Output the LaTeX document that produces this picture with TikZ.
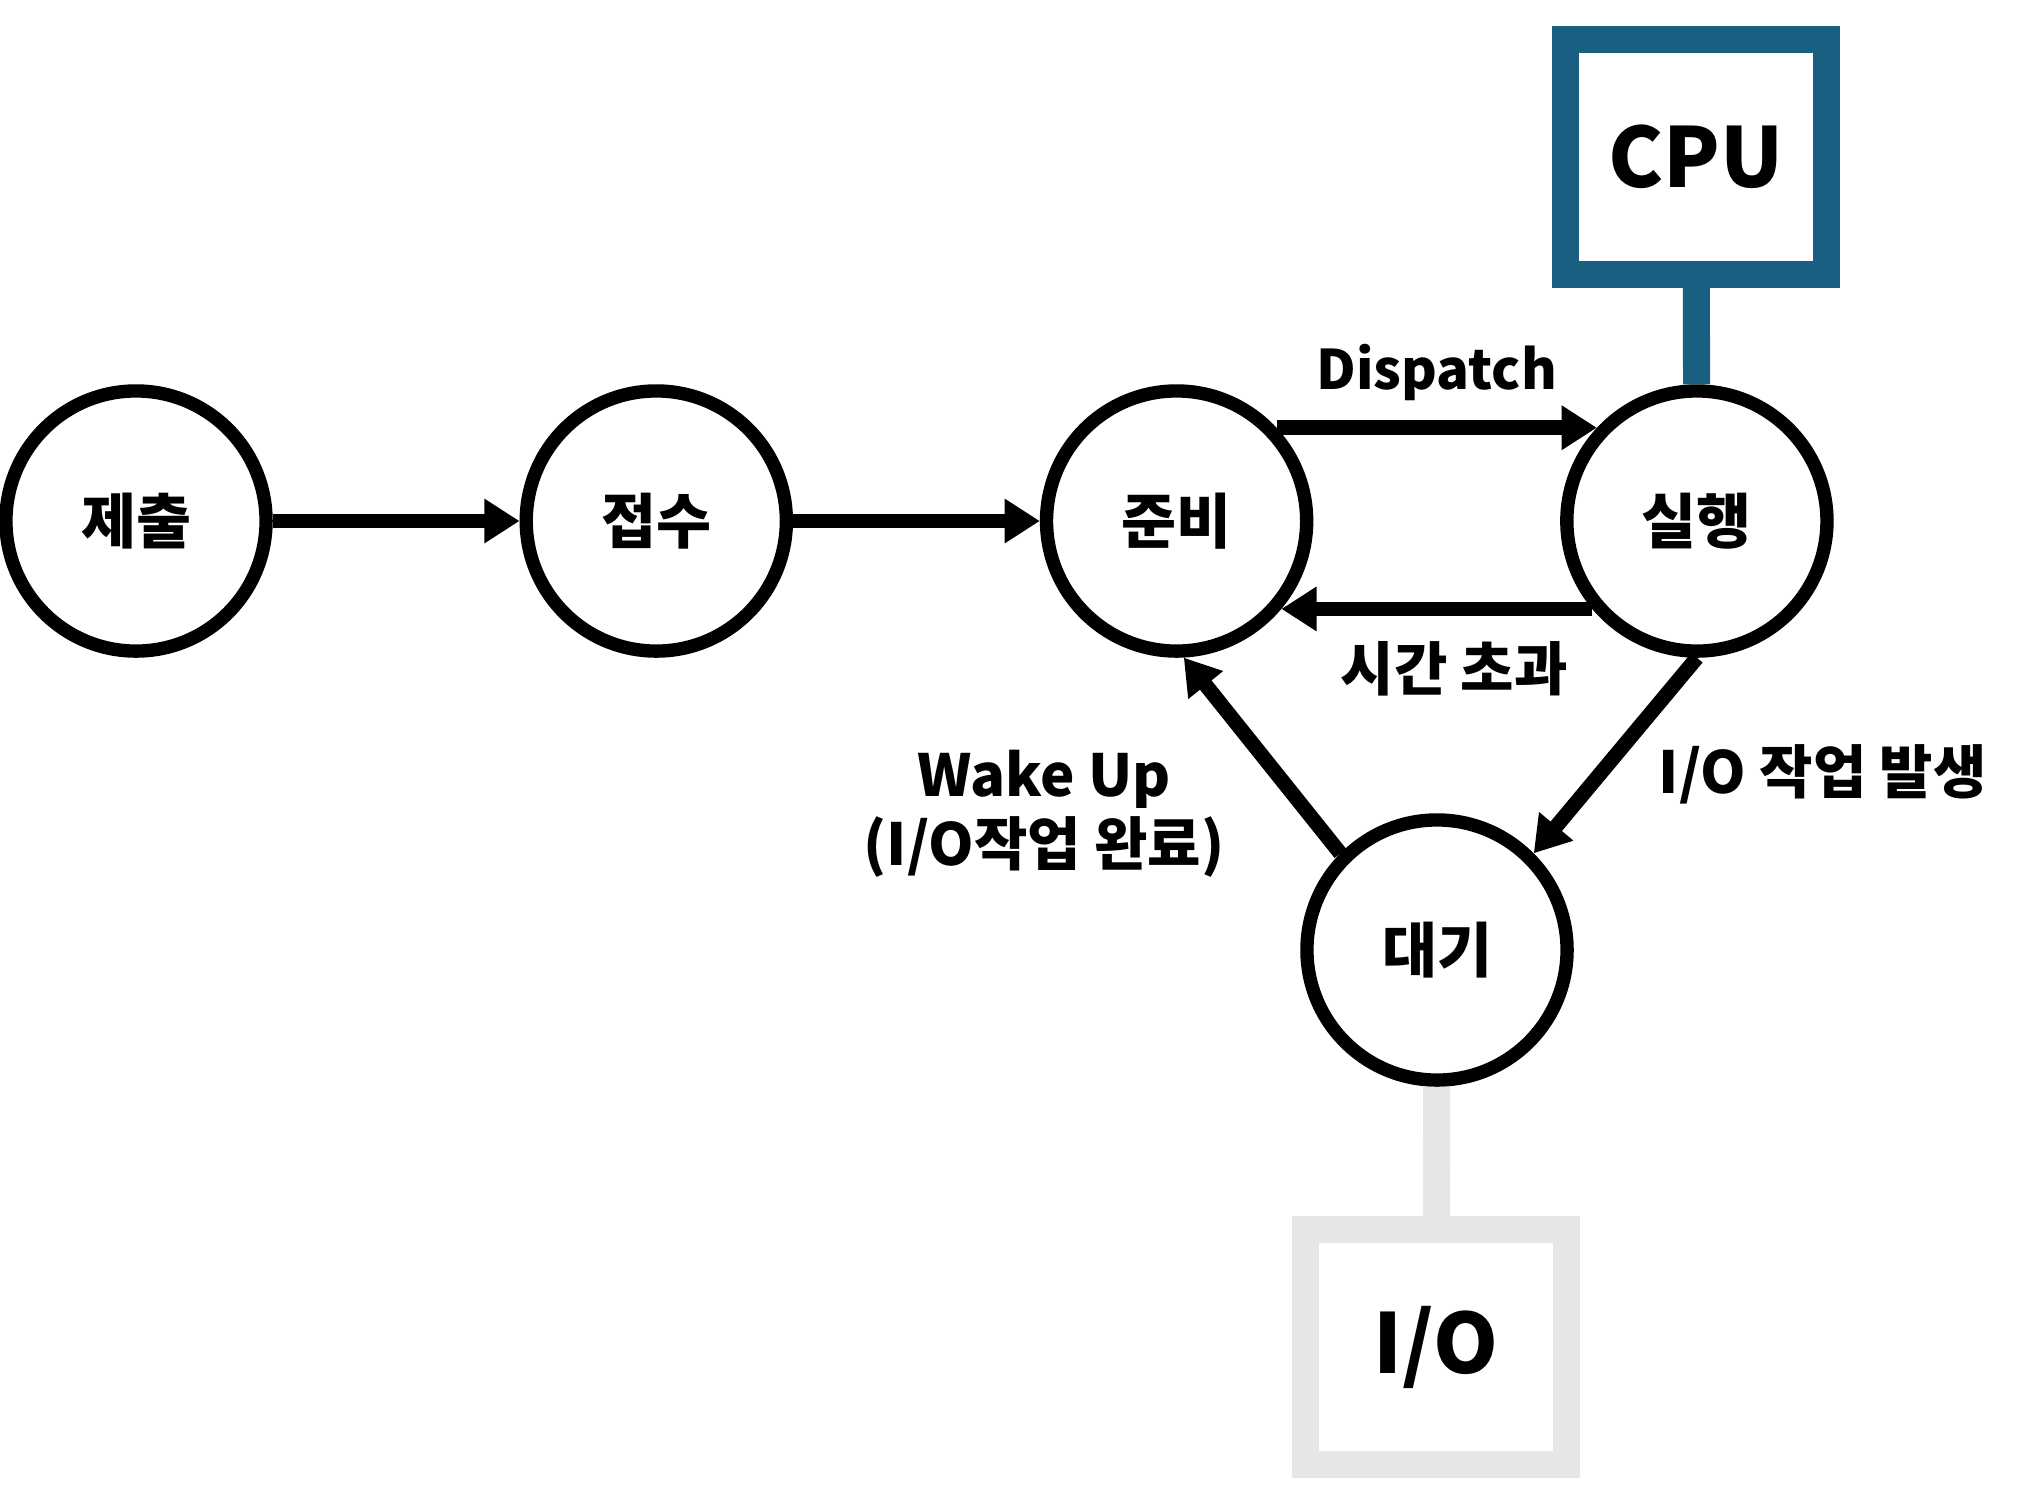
\documentclass[tikz,border=0pt]{standalone}
\usepackage{fontspec}
\setmainfont{Noto Sans CJK KR}
\usetikzlibrary{arrows.meta, positioning}
\definecolor{cpublue}{HTML}{185F82}
\definecolor{iogray}{HTML}{E6E6E6}

\begin{document}
\begin{tikzpicture}[x=0.01cm,y=-0.01cm,-{Triangle[length=10pt,width=12pt]},line width=4.2pt,node distance=5.2cm,
  state node/.style={circle,draw,line width=3.8pt,minimum size=2.6cm,inner sep=0pt,font=\fontsize{17}{20}\selectfont\bfseries},
  unit box/.style={rectangle,draw,line width=7.7pt,minimum width=2.6cm,minimum height=2.35cm,font=\fontsize{23.5}{28}\selectfont\bfseries},
  edge label/.style={font=\fontsize{16.5}{19.5}\selectfont\bfseries,align=center}]
  \useasboundingbox (0,0) rectangle (2033,1505);
  \node[state node] (submit) at (136,521) {제출};
  \node[state node] (accept) [right of=submit] {접수};
  \node[state node] (ready) [right of=accept] {준비};
  \node[state node] (run) [right of=ready] {실행};
  \node[state node] (wait) at (1437,950) {대기};
  \node[unit box,draw=cpublue] (cpu) at (1696,157) {CPU};
  \node[unit box,draw=iogray] (io) at (1436,1347) {I/O};
  \draw[-,cpublue,line width=7.7pt] (cpu) -- (run);
  \draw[-,iogray,line width=7.7pt] (wait) -- (io);
  \path[every node/.style={edge label}]
    (submit) edge (accept)
    (accept) edge (ready)
    (ready.43) edge node[yshift=15.6pt,font=\fontsize{15.5}{19}\selectfont\bfseries] {Dispatch} (run.137)
    (run.-140) edge node[xshift=5pt,yshift=-17pt] {시간 초과} (ready.-40)
    (run.south) edge node[xshift=59pt,yshift=-5.4pt] {I/O 작업 발생} (wait.45)
    (wait.135) edge node[xshift=-62pt,yshift=-16.5pt] {Wake Up\\(I/O작업 완료)} (ready.-87);
\end{tikzpicture}
\end{document}
